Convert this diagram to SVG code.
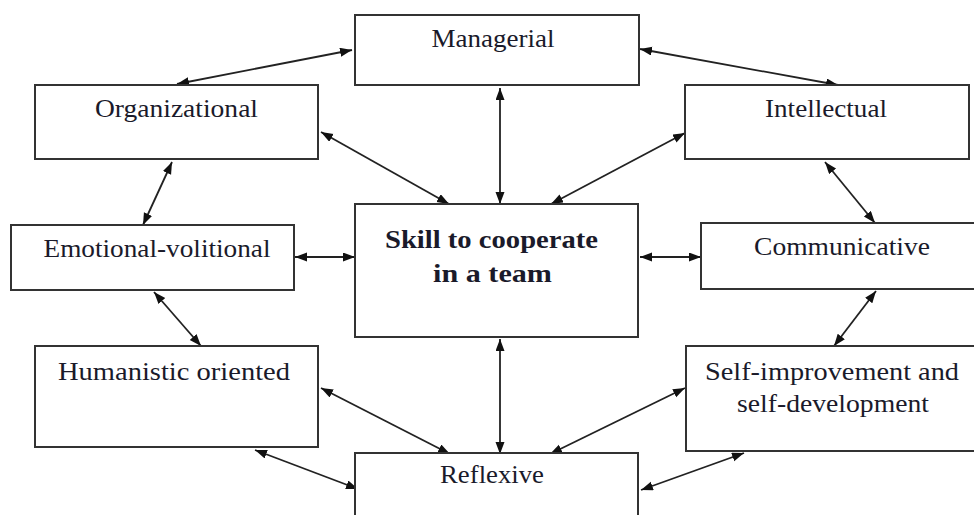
<svg xmlns="http://www.w3.org/2000/svg" width="974" height="515" viewBox="0 0 974 515">
<style>
.box{fill:#fff;stroke:#333;stroke-width:2}
.lbl{font-family:"Liberation Serif","Times New Roman",serif;font-size:26px;fill:#1a1a2a;text-anchor:middle}
.bold{font-weight:bold}
.con{stroke:#222;stroke-width:1.8;fill:none;marker-start:url(#ah);marker-end:url(#ah)}
</style>
<defs>
<marker id="ah" markerUnits="userSpaceOnUse" markerWidth="13" markerHeight="10" refX="12" refY="4.5" orient="auto-start-reverse" viewBox="0 0 13 10">
<path d="M0,0 L12,4.5 L0,9 z" fill="#111"/>
</marker>
</defs>
<rect width="974" height="515" fill="#fff"/>
<g id="connectors">
<line class="con" x1="352" y1="50" x2="177" y2="84"/>
<line class="con" x1="640" y1="49" x2="838" y2="85"/>
<line class="con" x1="321" y1="132" x2="449" y2="204"/>
<line class="con" x1="500" y1="88" x2="500" y2="204"/>
<line class="con" x1="685" y1="133" x2="551" y2="204"/>
<line class="con" x1="825" y1="162" x2="875" y2="223"/>
<line class="con" x1="172" y1="162" x2="143" y2="225"/>
<line class="con" x1="295" y1="257" x2="355" y2="257"/>
<line class="con" x1="640" y1="257" x2="701" y2="257"/>
<line class="con" x1="154" y1="292" x2="201" y2="346"/>
<line class="con" x1="876" y1="291" x2="834" y2="346"/>
<line class="con" x1="500" y1="339" x2="500" y2="454"/>
<line class="con" x1="321" y1="388" x2="450" y2="454"/>
<line class="con" x1="685" y1="388" x2="550" y2="454"/>
<line class="con" x1="255" y1="450" x2="358" y2="489"/>
<line class="con" x1="744" y1="453" x2="641" y2="490"/>
</g>
<g id="managerial">
<rect class="box" x="355" y="15" width="284" height="70"/>
<text class="lbl" x="493" y="47" textLength="123" lengthAdjust="spacingAndGlyphs">Managerial</text>
</g>
<g id="organizational">
<rect class="box" x="35" y="85" width="283" height="74"/>
<text class="lbl" x="176.5" y="117" textLength="163" lengthAdjust="spacingAndGlyphs">Organizational</text>
</g>
<g id="intellectual">
<rect class="box" x="685" y="85" width="284" height="74"/>
<text class="lbl" x="826" y="117" textLength="122" lengthAdjust="spacingAndGlyphs">Intellectual</text>
</g>
<g id="emotional">
<rect class="box" x="11" y="225" width="283" height="65"/>
<text class="lbl" x="157" y="257" textLength="227" lengthAdjust="spacingAndGlyphs">Emotional-volitional</text>
</g>
<g id="skill">
<rect class="box" x="355" y="204" width="283" height="133"/>
<text class="lbl bold" x="491.5" y="248" textLength="213" lengthAdjust="spacingAndGlyphs">Skill to cooperate</text>
<text class="lbl bold" x="492.5" y="282" textLength="119" lengthAdjust="spacingAndGlyphs">in a team</text>
</g>
<g id="communicative">
<rect class="box" x="701" y="223" width="290" height="66"/>
<text class="lbl" x="842" y="255" textLength="176" lengthAdjust="spacingAndGlyphs">Communicative</text>
</g>
<g id="humanistic">
<rect class="box" x="35" y="346" width="283" height="101"/>
<text class="lbl" x="174" y="380" textLength="232" lengthAdjust="spacingAndGlyphs">Humanistic oriented</text>
</g>
<g id="self">
<rect class="box" x="686" y="346" width="300" height="105"/>
<text class="lbl" x="832" y="380" textLength="254" lengthAdjust="spacingAndGlyphs">Self-improvement and</text>
<text class="lbl" x="833" y="412" textLength="192" lengthAdjust="spacingAndGlyphs">self-development</text>
</g>
<g id="reflexive">
<rect class="box" x="355" y="453" width="283" height="80"/>
<text class="lbl" x="492" y="483" textLength="104" lengthAdjust="spacingAndGlyphs">Reflexive</text>
</g>
</svg>
